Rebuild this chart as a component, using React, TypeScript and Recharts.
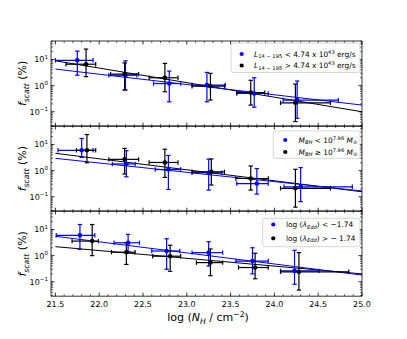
import React from 'react'
import { ComposedChart, Scatter, Line, ErrorBar, XAxis, YAxis } from 'recharts'

// log(N_H) bins: centre and [low, high] of the horizontal error bar
// f_scatt (%): centre and [low, high] of the vertical error bar

// panel 1: L(14-195) split
const lumLowNh = [21.75, 22.30, 22.80, 23.23, 23.77, 24.26]
const lumLowNhRange = [[21.50, 21.93], [22.11, 22.43], [22.62, 22.93], [23.06, 23.44], [23.57, 23.93], [24.10, 24.73]]
const lumLowF = [9.3, 2.5, 1.2, 1.05, 0.5, 0.28]
const lumLowFRange = [[2.5, 20.9], [0.68, 8.9], [0.24, 3.6], [0.24, 3.2], [0.15, 2.0], [0.056, 1.5]]

const lumHighNh = [21.85, 22.29, 22.75, 23.27, 23.73, 24.24]
const lumHighNhRange = [[21.62, 21.96], [22.13, 22.45], [22.57, 22.90], [23.06, 23.43], [23.57, 23.89], [24.07, 24.64]]
const lumHighF = [6.6, 2.75, 2.0, 0.95, 0.54, 0.22]
const lumHighFRange = [[2.2, 25], [0.68, 7.4], [0.58, 7.1], [0.28, 2.95], [0.18, 1.6], [0.042, 1.15]]

// panel 2: black hole mass split
const massLowNh = [21.80, 22.31, 22.79, 23.25, 23.80, 24.30]
const massLowNhRange = [[21.53, 21.93], [22.15, 22.41], [22.64, 22.93], [23.06, 23.40], [23.57, 23.93], [24.11, 24.89]]
const massLowF = [6.0, 1.8, 1.1, 0.83, 0.32, 0.24]
const massLowFRange = [[3.2, 17], [0.58, 5.8], [0.19, 3.8], [0.18, 2.75], [0.126, 1.2], [0.065, 1.3]]

const massHighNh = [21.86, 22.29, 22.75, 23.28, 23.73, 24.24]
const massHighNhRange = [[21.74, 21.96], [22.11, 22.45], [22.57, 22.90], [23.06, 23.43], [23.56, 23.93], [24.07, 24.64]]
const massHighF = [6.0, 2.7, 2.05, 0.9, 0.5, 0.21]
const massHighFRange = [[2.0, 24], [0.74, 7.1], [0.55, 6.6], [0.28, 2.8], [0.18, 1.5], [0.04, 1.12]]

// panel 3: Eddington ratio split
const eddLowNh = [21.78, 22.33, 22.77, 23.25, 23.75, 24.23]
const eddLowNhRange = [[21.51, 21.95], [22.17, 22.46], [22.60, 22.92], [23.06, 23.41], [23.56, 23.93], [24.07, 24.51]]
const eddLowF = [6.0, 3.1, 1.5, 1.3, 0.62, 0.26]
const eddLowFRange = [[1.74, 15.5], [1.4, 6.5], [0.3, 4.4], [0.4, 3.4], [0.2, 2.0], [0.08, 1.6]]

const eddHighNh = [21.92, 22.31, 22.81, 23.27, 23.78, 24.28]
const eddHighNhRange = [[21.69, 21.99], [22.14, 22.41], [22.61, 22.93], [23.11, 23.41], [23.59, 23.93], [24.07, 24.85]]
const eddHighF = [3.6, 1.35, 0.95, 0.54, 0.35, 0.24]
const eddHighFRange = [[1.0, 15.5], [0.46, 3.1], [0.25, 2.5], [0.17, 1.8], [0.13, 1.23], [0.048, 1.3]]

// best-fit lines, values at the two ends of fitNh
const fitNh = [21.5, 25.0]
const lumLowFit = [4.3, 0.18]
const lumHighFit = [8.9, 0.1]
const massLowFit = [2.95, 0.166]
const massHighFit = [4.6, 0.155]
const eddLowFit = [5.5, 0.18]
const eddHighFit = [2.2, 0.2]

const xMajorTicks = [21.5, 22.0, 22.5, 23.0, 23.5, 24.0, 24.5, 25.0]
const yMajorTicks = [0.1, 1, 10]
const yTickExp = ['\u22121', '0', '1']

const xMinorTicks = Array.from({ length: 36 }, (_, i) => Math.round((21.5 + i * 0.1) * 10) / 10)
const yMinorTicks: number[] = []
;[0.01, 0.1, 1, 10].forEach(d => { for (let k = 2; k <= 9; k++) { const v = +(d * k).toPrecision(3); if (v > 0.028 && v < 51) yMinorTicks.push(v) } })

const BLUE = '#0000ff'
const BLACK = '#000000'
const FONT = 'DejaVu Sans, sans-serif'
const PH = 85.2
const PT = [40.8, 126, 211.2]
const X_DOMAIN = [21.45, 25.0]
const Y_DOMAIN = [0.028, 51]

const toPoints = (nh: number[], nhR: number[][], f: number[], fR: number[][]) =>
    nh.map((x, i) => ({ x, y: f[i], ex: [x - nhR[i][0], nhR[i][1] - x], ey: [f[i] - fR[i][0], fR[i][1] - f[i]] }))
const toFit = (vals: number[]) => fitNh.map((x, i) => ({ x, y: vals[i] }))

const near = (v: number, list: number[]) => list.some(m => Math.abs(m - v) < 1e-6)

const makeXTick = (side: 'bottom' | 'top', labels: boolean) => (props: any) => {
    const { x, y, payload } = props
    const major = near(payload.value, xMajorTicks)
    const len = major ? 3.5 : 2
    const dir = side === 'bottom' ? -1 : 1
    return (
        <g>
            <line x1={x} x2={x} y1={y} y2={y + dir * len} stroke={BLACK} strokeWidth={major ? 0.8 : 0.6} />
            {labels && major && side === 'bottom' && (
                <text x={x} y={y + 11} textAnchor="middle" fontSize={8} fontFamily={FONT} fill="#000">{payload.value.toFixed(1)}</text>
            )}
        </g>
    )
}

const makeYTick = (side: 'left' | 'right') => (props: any) => {
    const { x, y, payload } = props
    const idx = yMajorTicks.findIndex(m => Math.abs(m - payload.value) < 1e-9)
    const major = idx >= 0
    const len = major ? 3.5 : 2
    const dir = side === 'left' ? 1 : -1
    return (
        <g>
            <line x1={x} x2={x + dir * len} y1={y} y2={y} stroke={BLACK} strokeWidth={major ? 0.8 : 0.6} />
            {side === 'left' && major && (
                <text x={x - 3} y={y + 3} textAnchor="end" fontSize={8} fontFamily={FONT} fill="#000">
                    10<tspan dy={-3.5} fontSize={5.6}>{yTickExp[idx]}</tspan>
                </text>
            )}
        </g>
    )
}

const dot = (color: string) => (p: any) => <circle cx={p.cx} cy={p.cy} r={2.3} fill={color} />

interface PanelProps { top: number, blue: any[], black: any[], blueFit: any[], blackFit: any[], last: boolean }

const Panel = ({ top, blue, black, blueFit, blackFit, last }: PanelProps) => {
    const bottomH = last ? 20 : 1
    return (
        <div style={{ position: 'absolute', left: 0, top: top - 6 }}>
            <ComposedChart width={407} height={6 + PH + bottomH} margin={{ top: 5, right: 0, bottom: 0, left: 0 }}>
                <XAxis dataKey="x" type="number" domain={X_DOMAIN} allowDataOverflow ticks={[...xMinorTicks]} interval={0}
                    height={bottomH} tickSize={0} tickMargin={0} tickLine={false} stroke={BLACK} strokeWidth={0.8}
                    tick={makeXTick('bottom', last)} />
                <XAxis xAxisId="t" orientation="top" dataKey="x" type="number" domain={X_DOMAIN} allowDataOverflow
                    ticks={[...xMinorTicks]} interval={0} height={1} tickSize={0} tickMargin={0} tickLine={false}
                    stroke={BLACK} strokeWidth={0.8} tick={makeXTick('top', false)} />
                <YAxis type="number" scale="log" domain={Y_DOMAIN} allowDataOverflow ticks={[...yMajorTicks, ...yMinorTicks]}
                    interval={0} width={51} tickSize={0} tickMargin={0} tickLine={false} stroke={BLACK} strokeWidth={0.8}
                    tick={makeYTick('left')} />
                <YAxis yAxisId="r" orientation="right" type="number" scale="log" domain={Y_DOMAIN} allowDataOverflow
                    ticks={[...yMajorTicks, ...yMinorTicks]} interval={0} width={45} tickSize={0} tickMargin={0}
                    tickLine={false} stroke={BLACK} strokeWidth={0.8} tick={makeYTick('right')} />
                <Line data={blackFit} dataKey="y" stroke={BLACK} strokeWidth={1} dot={false} isAnimationActive={false} />
                <Line data={blueFit} dataKey="y" stroke={BLUE} strokeWidth={1} dot={false} isAnimationActive={false} />
                <Scatter data={blue} dataKey="y" fill={BLUE} shape={dot(BLUE)} isAnimationActive={false}>
                    <ErrorBar dataKey="ex" direction="x" width={2.2} stroke={BLUE} strokeWidth={1.2} />
                    <ErrorBar dataKey="ey" direction="y" width={2.2} stroke={BLUE} strokeWidth={1.2} />
                </Scatter>
                <Scatter data={black} dataKey="y" fill={BLACK} shape={dot(BLACK)} isAnimationActive={false}>
                    <ErrorBar dataKey="ex" direction="x" width={2.2} stroke={BLACK} strokeWidth={1.2} />
                    <ErrorBar dataKey="ey" direction="y" width={2.2} stroke={BLACK} strokeWidth={1.2} />
                </Scatter>
            </ComposedChart>
        </div>
    )
}

const LegendBox = ({ x, y, w, h, mx, my, tx, rows }: { x: number, y: number, w: number, h: number, mx: number, my: number[], tx: number, rows: React.ReactNode[] }) => (
    <g>
        <rect x={x} y={y} width={w} height={h} rx={2} fill="#fff" fillOpacity={0.85} stroke="#cccccc" strokeWidth={0.8} />
        {rows.map((r, i) => (
            <g key={i}>
                <circle cx={mx} cy={my[i]} r={2.1} fill={i === 0 ? BLUE : BLACK} />
                <text x={tx} y={my[i] + 2.6} fontSize={7.4} fontFamily={FONT} fill="#000">{r}</text>
            </g>
        ))}
    </g>
)

const lumRow = (op: string) => (
    <>
        <tspan fontStyle="italic">L</tspan><tspan fontSize={5.2} dy={1.5}>14 − 195</tspan>
        <tspan dy={-1.5}>{` ${op} 4.74 x 10`}</tspan><tspan fontSize={5.2} dy={-3}>43</tspan><tspan dy={3}> erg/s</tspan>
    </>
)
const massRow = (op: string) => (
    <>
        <tspan fontStyle="italic">M</tspan><tspan fontSize={5.2} fontStyle="italic" dy={1.5}>BH</tspan>
        <tspan dy={-1.5}>{` ${op} 10`}</tspan><tspan fontSize={5.2} dy={-3}>7.96</tspan>
        <tspan dy={3} fontStyle="italic"> M</tspan><tspan fontSize={5.2} dy={1.5}>⊙</tspan>
    </>
)
const eddRow = (rest: string) => (
    <>
        <tspan>log (</tspan><tspan fontStyle="italic">λ</tspan><tspan fontSize={5.2} fontStyle="italic" dy={1.5}>Edd</tspan>
        <tspan dy={-1.5}>{`) ${rest}`}</tspan>
    </>
)

const App = () => {
    const panels = [
        { blue: toPoints(lumLowNh, lumLowNhRange, lumLowF, lumLowFRange), black: toPoints(lumHighNh, lumHighNhRange, lumHighF, lumHighFRange), blueFit: toFit(lumLowFit), blackFit: toFit(lumHighFit) },
        { blue: toPoints(massLowNh, massLowNhRange, massLowF, massLowFRange), black: toPoints(massHighNh, massHighNhRange, massHighF, massHighFRange), blueFit: toFit(massLowFit), blackFit: toFit(massHighFit) },
        { blue: toPoints(eddLowNh, eddLowNhRange, eddLowF, eddLowFRange), black: toPoints(eddHighNh, eddHighNhRange, eddHighF, eddHighFRange), blueFit: toFit(eddLowFit), blackFit: toFit(eddHighFit) },
    ]
    return (
        <div style={{ position: 'absolute', left: 0, top: 0, width: 407, height: 339, background: '#fff' }}>
            {panels.map((p, i) => (
                <Panel key={i} top={PT[i]} {...p} last={i === 2} />
            ))}
            <svg width={407} height={339} style={{ position: 'absolute', left: 0, top: 0, pointerEvents: 'none' }}>
                {PT.map((t, i) => (
                    <text key={i} transform={`translate(26, ${t + PH / 2}) rotate(-90)`} textAnchor="middle" fontSize={11} fontFamily={FONT} fill="#000">
                        <tspan fontStyle="italic">f</tspan><tspan fontSize={7.7} fontStyle="italic" dy={2.5}>scatt</tspan><tspan dy={-2.5}> (%)</tspan>
                    </text>
                ))}
                <text x={208} y={321} textAnchor="middle" fontSize={11} fontFamily={FONT} fill="#000">
                    log (<tspan fontStyle="italic">N</tspan><tspan fontSize={7.7} fontStyle="italic" dy={2.5}>H</tspan>
                    <tspan dy={-2.5}> / cm</tspan><tspan fontSize={7.7} dy={-4}>−2</tspan><tspan dy={4}>)</tspan>
                </text>
                <LegendBox x={231} y={43} w={129} h={29.5} mx={241.7} my={[54, 65.5]} tx={254}
                    rows={[lumRow('<'), lumRow('>')]} />
                <LegendBox x={273.3} y={131} w={86.7} h={27.3} mx={285.3} my={[140, 152]} tx={298.5}
                    rows={[massRow('<'), massRow('≥')]} />
                <LegendBox x={262.7} y={218.3} w={97.3} h={28.4} mx={273.3} my={[224.5, 238.3]} tx={286}
                    rows={[eddRow('< −1.74'), eddRow('> − 1.74')]} />
            </svg>
        </div>
    )
}

export default App
